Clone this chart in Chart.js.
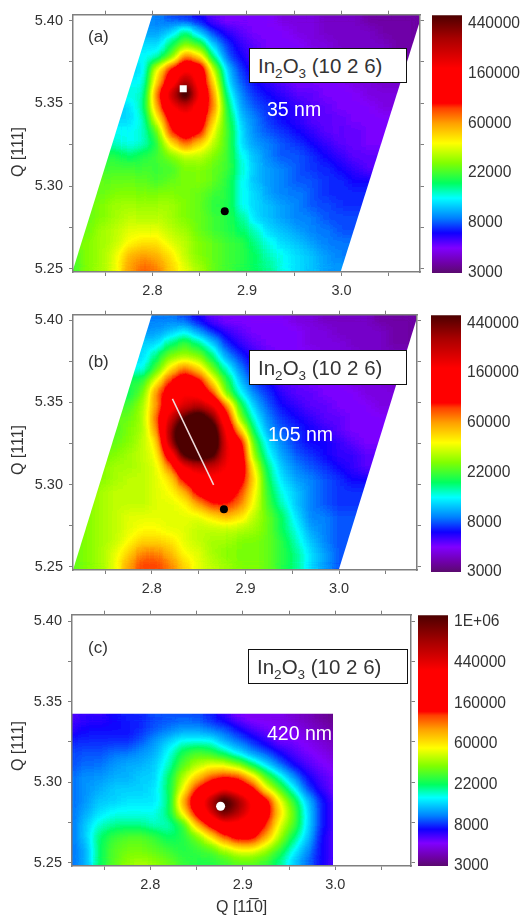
<!DOCTYPE html>
<html>
<head>
<meta charset="utf-8">
<script src="https://cdn.jsdelivr.net/npm/chart.js@4"></script>
<style>
body { margin: 0; background: #fff; width: 524px; height: 917px; position: relative; overflow: hidden; font-family: "Liberation Sans", Arial, sans-serif; }
canvas { position: absolute; }
.t { position: absolute; white-space: nowrap; color: #333; line-height: 1; }
.box { position: absolute; background: #fff; border: 1.5px solid #111; box-sizing: border-box; color: #333; font-size: 20.5px; line-height: 1; padding-left: 8px; }
.box sub { font-size: 13.5px; line-height: 0; }
.nm { color: #fff; font-size: 19.5px; }
.ylab { transform: translate(-50%, -50%) rotate(-90deg); font-size: 16px; }
</style>
</head>
<body>
<canvas id="heatA" width="430" height="300" style="left:0;top:0"></canvas>
<canvas id="barA" width="92" height="290" style="left:432px;top:0"></canvas>
<canvas id="heatB" width="430" height="300" style="left:0;top:300px"></canvas>
<canvas id="barB" width="93" height="290" style="left:431px;top:300px"></canvas>
<canvas id="heatC" width="430" height="300" style="left:0;top:600px"></canvas>
<canvas id="barC" width="106" height="290" style="left:418px;top:600px"></canvas>

<div class="t" style="left:88px;top:28px;font-size:17px">(a)</div>
<div class="box" style="left:249px;top:48px;width:158px;height:35px;padding-top:7px">In<sub>2</sub>O<sub>3</sub> (10 2 6)</div>
<div class="t nm" style="left:267px;top:100px">35 nm</div>
<div class="t ylab" style="left:18px;top:152px">Q [111]</div>

<div class="t" style="left:88px;top:353px;font-size:17px">(b)</div>
<div class="box" style="left:249px;top:350px;width:158px;height:35px;padding-top:7px">In<sub>2</sub>O<sub>3</sub> (10 2 6)</div>
<div class="t nm" style="left:268px;top:425px">105 nm</div>
<div class="t ylab" style="left:18px;top:450px">Q [111]</div>

<div class="t" style="left:88px;top:639px;font-size:17px">(c)</div>
<div class="box" style="left:248px;top:649px;width:160px;height:35px;padding-top:7px">In<sub>2</sub>O<sub>3</sub> (10 2 6)</div>
<div class="t nm" style="left:267px;top:724px">420 nm</div>
<div class="t ylab" style="left:18px;top:746px">Q [111]</div>
<div class="t" style="left:216px;top:899px;font-size:16px">Q [11&#x305;0]</div>

<script>
// Map grid, x positions shared by all panels
const qx = [2.715, 2.73, 2.745, 2.76, 2.775, 2.79, 2.805, 2.82, 2.835, 2.85, 2.865, 2.88, 2.895, 2.91, 2.925, 2.94, 2.955, 2.97, 2.985, 3.0, 3.015, 3.03, 3.045, 3.06, 3.075];
const qyFull = [5.4, 5.3925, 5.385, 5.3775, 5.37, 5.3625, 5.355, 5.3475, 5.34, 5.3325, 5.325, 5.3175, 5.31, 5.3025, 5.295, 5.2875, 5.28, 5.2725, 5.265, 5.2575, 5.25];
const qyShort = qyFull.slice(8);

// Intensity levels, one row per Q[111] from the top.
// A level is 10*ln(I/3000), so the bar ticks sit 10 levels apart.
const levelsA = [
  [11,11,11,11,11,11,11,10,9,8,6,5,5,5,5,4,4,4,3,3,3,2,2,2,2],
  [12,12,12,12,12,12,12,14,18,13,9,7,6,5,5,5,4,4,3,3,3,3,2,2,2],
  [14,14,14,14,14,14,14,18,22,20,13,9,7,6,5,5,5,4,4,3,3,3,3,2,2],
  [15,15,15,15,15,15,16,21,32,28,17,10,8,6,5,5,5,5,4,4,3,3,3,2,2],
  [14,14,14,14,14,14,26,35,41,39,24,13,9,7,6,5,5,5,5,4,4,3,3,3,3],
  [15,15,15,15,15,15,28,38,47,39,27,14,10,8,7,6,5,5,5,5,4,4,3,3,3],
  [16,16,16,16,16,16,32,45,56,41,30,16,11,9,8,7,6,6,5,5,5,4,4,4,4],
  [14,14,14,14,14,17,30,41,44,39,31,18,12,10,9,8,7,6,6,5,5,5,4,4,4],
  [14,14,14,14,14,16,26,36,40,38,28,19,13,11,9,8,7,6,6,6,5,5,5,5,5],
  [15,15,15,15,15,16,21,34,38,35,25,20,14,11,10,9,8,7,6,6,6,5,5,5,5],
  [16,16,16,16,15,16,19,27,32,28,24,20,14,12,11,10,9,8,7,6,6,5,5,5,5],
  [19,19,19,19,18,19,20,22,24,24,22,20,15,13,11,10,10,9,8,7,6,6,6,6,6],
  [20,20,20,20,20,20,20,20,22,22,21,20,16,13,12,11,10,9,9,8,7,6,6,6,6],
  [21,21,21,21,21,21,20,21,22,22,21,19,15,13,12,11,10,10,9,9,8,8,8,8,8],
  [21,21,21,22,22,22,22,22,22,21,20,19,15,14,12,11,11,10,9,9,9,9,9,9,9],
  [21,21,22,23,23,23,23,23,22,21,19,19,15,14,13,12,11,10,10,9,9,9,9,9,9],
  [21,21,22,23,24,24,24,23,22,21,20,19,17,14,13,12,11,11,10,10,10,10,10,10,10],
  [21,21,23,24,25,25,25,24,23,21,20,19,18,16,14,13,12,11,11,10,10,10,10,10,10],
  [21,22,23,24,26,27,27,25,24,22,21,20,19,17,15,14,13,12,11,11,11,11,11,11,11],
  [20,22,23,25,29,30,29,27,24,22,21,20,19,18,16,15,14,13,12,11,11,11,11,11,11],
  [20,22,23,25,30,32,31,28,25,23,21,20,19,18,17,15,14,13,12,12,12,12,12,12,12]
];
const levelsB = [
  [11,11,11,11,11,11,11,11,10,8,6,5,5,5,5,5,4,4,3,3,3,3,2,2,2],
  [12,12,12,12,12,12,12,13,15,12,9,7,6,5,5,5,5,4,4,3,3,3,3,2,2],
  [14,14,14,14,14,14,14,18,20,18,14,9,7,6,5,5,5,4,4,4,3,3,3,2,2],
  [14,14,14,14,14,14,18,22,23,22,18,12,9,7,6,5,5,5,4,4,4,3,3,3,3],
  [15,15,15,15,15,15,20,27,32,28,21,16,11,8,7,6,5,5,5,4,4,4,3,3,3],
  [19,19,19,19,19,19,26,34,38,36,27,19,13,9,8,6,6,5,5,5,4,4,4,3,3],
  [18,18,18,18,18,21,31,38,41,39,33,21,15,11,9,7,6,6,5,5,5,4,4,4,4],
  [20,20,20,20,20,23,30,39,43,46,42,31,19,13,10,8,7,6,6,5,5,5,4,4,4],
  [21,21,21,21,21,23,32,44,52,56,50,36,22,15,11,9,8,7,6,6,5,5,5,5,5],
  [20,20,20,20,22,23,30,48,58,60,56,40,28,17,12,10,9,8,7,6,5,5,5,5,5],
  [21,21,21,21,22,24,27,47,58,60,58,42,36,20,14,11,9,8,8,7,6,5,5,5,5],
  [21,21,21,22,23,24,26,38,53,56,53,42,37,22,15,12,10,9,8,7,7,6,6,6,6],
  [22,22,22,23,23,24,25,31,41,44,44,41,38,25,17,13,11,10,9,8,7,6,6,6,6],
  [22,22,22,23,24,24,25,27,35,39,40,39,36,27,18,14,12,11,10,9,8,8,8,8,8],
  [22,22,23,24,24,24,25,26,29,36,38,37,33,26,19,15,13,11,10,9,9,9,9,9,9],
  [22,22,23,24,24,24,25,25,26,30,34,34,31,25,20,16,13,11,10,9,9,9,9,9,9],
  [22,22,23,24,25,25,25,25,25,25,27,29,27,24,21,18,14,11,11,10,10,10,10,10,10],
  [21,22,23,24,25,26,26,25,25,24,24,24,24,23,21,18,15,12,11,10,10,10,10,10,10],
  [21,22,23,24,26,28,28,27,25,24,23,23,22,22,21,19,16,13,11,10,10,10,10,10,10],
  [21,22,23,25,28,31,31,29,26,25,23,22,22,22,21,19,17,14,12,10,10,10,10,10,10],
  [21,22,23,25,30,33,33,31,28,25,24,23,22,22,21,19,17,14,12,10,10,10,10,10,10]
];
const levelsC = [
  [7,8,8,9,10,10,11,11,11,11,10,8,6,5,5,5,4,3,2,1],
  [8,9,9,9,9,10,11,12,13,13,12,11,9,7,6,5,5,4,3,2],
  [10,10,10,10,10,11,13,15,17,17,17,14,12,10,8,6,6,5,4,3],
  [11,11,11,12,12,13,14,17,21,23,22,19,16,13,11,9,7,6,5,4],
  [11,12,12,13,14,14,15,18,23,26,28,28,25,20,16,12,9,7,6,5],
  [12,13,13,14,14,15,15,20,26,31,36,38,37,31,23,18,13,9,7,6],
  [12,13,14,15,15,15,16,20,28,38,43,48,44,40,29,23,17,11,8,6],
  [12,13,15,15,16,16,16,19,33,43,54,66,57,48,41,29,22,15,10,7],
  [12,14,16,17,17,17,17,20,29,40,50,60,54,47,41,31,24,16,10,7],
  [12,15,18,19,19,19,18,18,21,31,39,45,45,43,38,28,23,16,10,7],
  [12,15,20,22,23,23,22,20,21,24,29,36,40,40,33,26,20,15,9,7],
  [12,14,20,23,24,24,23,22,21,22,23,26,29,29,26,22,17,13,9,7],
  [12,14,20,23,25,26,25,24,22,21,21,22,23,23,22,19,15,12,9,7]
];

// Measured region of each map
const domainA = [[2.7153, 5.248], [2.8, 5.4036], [3.085, 5.4036], [2.999, 5.248]];
const domainB = [[2.7158, 5.248], [2.8, 5.4034], [3.0842, 5.4034], [2.9996, 5.248]];
const domainC = [[2.7154, 5.2479], [2.7154, 5.3425], [2.9975, 5.3425], [2.9975, 5.2479]];

// Markers
const squareA = [{x: 2.8326, y: 5.3588}];
const dotA = [{x: 2.8765, y: 5.2848}];
const dotB = [{x: 2.877, y: 5.285}];
const lineB = [{x: 2.822, y: 5.3522}, {x: 2.866, y: 5.2998}];
const dotC = [{x: 2.876, y: 5.285}];

// Colour bars
const barLabelsAB = ['3000', '8000', '22000', '60000', '160000', '440000'];
const barLabelsC = ['3000', '8000', '22000', '60000', '160000', '440000', '1E+06'];
const stopsAB = [0, 2, 5, 8, 11, 15, 18, 22, 26, 30, 33, 34, 41, 47, 51.6];
const stopsC = [0, 2.2, 5.6, 9, 12.3, 16.8, 20, 24.6, 29, 33.6, 37, 38, 48, 55, 61.6];
const stopColors = ['#5a0a6e', '#6f00a8', '#8000ff', '#1000ff', '#0080ff', '#00ffff', '#00ff60', '#80ff00', '#ffff00', '#ffa000', '#ff4000', '#ff0000', '#ff0000', '#a80000', '#4d0000'];

const levelToGrey = 3.5;

function hexToRgb(h) {
  return [parseInt(h.slice(1, 3), 16), parseInt(h.slice(3, 5), 16), parseInt(h.slice(5, 7), 16)];
}

function levelColor(level, stops) {
  if (level <= stops[0]) return hexToRgb(stopColors[0]);
  for (let i = 1; i < stops.length; i++) {
    if (level <= stops[i]) {
      const t = (level - stops[i - 1]) / (stops[i] - stops[i - 1]);
      const a = hexToRgb(stopColors[i - 1]);
      const b = hexToRgb(stopColors[i]);
      return a.map((v, k) => Math.round(v + (b[k] - v) * t));
    }
  }
  return hexToRgb(stopColors[stopColors.length - 1]);
}

// The cells are drawn as grey levels; this smooths the level field, colours it
// through the colour bar and cuts it to the measured region
const smoothMap = {
  id: 'smoothMap',
  afterDatasetDraw(chart, args, opts) {
    if (args.index !== 0) return;
    const ctx = chart.ctx;
    const area = chart.chartArea;
    const off = document.createElement('canvas');
    off.width = chart.width;
    off.height = chart.height;
    const octx = off.getContext('2d');
    octx.drawImage(chart.canvas, 0, 0);
    octx.filter = 'blur(' + opts.blur + 'px)';
    octx.drawImage(chart.canvas, 0, 0);
    octx.filter = 'none';
    const img = octx.getImageData(0, 0, off.width, off.height);
    const lut = [];
    for (let g = 0; g < 256; g++) lut.push(levelColor(g / levelToGrey, opts.stops));
    for (let i = 0; i < img.data.length; i += 4) {
      const c = lut[img.data[i]];
      img.data[i] = c[0];
      img.data[i + 1] = c[1];
      img.data[i + 2] = c[2];
      img.data[i + 3] = img.data[i + 3] ? 255 : 0;
    }
    octx.putImageData(img, 0, 0);
    ctx.save();
    ctx.clearRect(0, 0, chart.width, chart.height);
    ctx.beginPath();
    ctx.rect(area.left, area.top, area.right - area.left, area.bottom - area.top);
    ctx.clip();
    ctx.beginPath();
    opts.domain.forEach(p => ctx.lineTo(chart.scales.x.getPixelForValue(p[0]), chart.scales.y.getPixelForValue(p[1])));
    ctx.closePath();
    ctx.clip();
    ctx.drawImage(off, 0, 0);
    ctx.restore();
  }
};

const axisGrey = '#7f7f7f';

function axisBase(min, max) {
  return {
    type: 'linear', min: min, max: max,
    grid: { drawOnChartArea: false, color: axisGrey, tickLength: 4, z: 1 },
    border: { color: axisGrey, width: 1.5, z: 1 }
  };
}

function heatChart(id, cfg) {
  const cells = [];
  const greys = [];
  cfg.rows.forEach((row, j) => {
    row.forEach((level, i) => {
      const g = Math.min(255, Math.round(level * levelToGrey));
      cells.push({ x: qx[i], y: cfg.qy[j] });
      greys.push('rgb(' + g + ',' + g + ',' + g + ')');
    });
  });
  const font = { family: '"Liberation Sans", Arial, sans-serif', size: 14.5 };
  const x = axisBase(cfg.xMin, cfg.xMax);
  x.position = 'bottom';
  x.ticks = {
    stepSize: 0.05, includeBounds: false, autoSkip: false, maxRotation: 0, padding: 6, color: '#333', font: font, z: 1,
    callback: v => Math.round(v * 100) % 10 === 0 ? v.toFixed(1) : ''
  };
  x.afterFit = s => { s.height = 300 - cfg.bottom; };
  const xTop = axisBase(cfg.xMin, cfg.xMax);
  xTop.position = 'top';
  xTop.ticks = { stepSize: 0.05, includeBounds: false, display: false };
  xTop.afterFit = s => { s.height = cfg.top; };
  const y = axisBase(cfg.yMin, cfg.yMax);
  y.position = 'left';
  y.ticks = {
    stepSize: 0.025, includeBounds: false, autoSkip: false, padding: 6, color: '#333', font: font, z: 1,
    callback: v => Math.round(v * 1000) % 50 === 0 ? v.toFixed(2) : ''
  };
  y.afterFit = s => { s.width = cfg.left; };
  const yRight = axisBase(cfg.yMin, cfg.yMax);
  yRight.position = 'right';
  yRight.ticks = { stepSize: 0.025, includeBounds: false, display: false };
  yRight.afterFit = s => { s.width = 430 - cfg.right; };

  const datasets = [{
    data: cells, order: 5, clip: false, showLine: false,
    pointStyle: 'rect', pointRadius: 10, pointBorderWidth: 0, pointBackgroundColor: greys
  }].concat(cfg.marks);

  return new Chart(document.getElementById(id), {
    type: 'scatter',
    data: { datasets: datasets },
    options: {
      responsive: false, animation: false, events: [],
      layout: { padding: 0 },
      plugins: { legend: { display: false }, tooltip: { enabled: false }, smoothMap: { domain: cfg.domain, stops: cfg.stops, blur: 5.5 } },
      scales: { x: x, xTop: xTop, y: y, yRight: yRight }
    },
    plugins: [smoothMap]
  });
}

function barChart(id, labels, stops, top, bottom) {
  const barTop = stops[stops.length - 1];
  return new Chart(document.getElementById(id), {
    type: 'bar',
    data: {
      labels: ['bar'],
      datasets: [{
        data: [barTop], barPercentage: 1, categoryPercentage: 1,
        backgroundColor(c) {
          const area = c.chart.chartArea;
          if (!area) return stopColors[0];
          const g = c.chart.ctx.createLinearGradient(0, area.bottom, 0, area.top);
          stops.forEach((s, i) => g.addColorStop(s / barTop, stopColors[i]));
          return g;
        }
      }]
    },
    options: {
      responsive: false, animation: false, events: [],
      layout: { padding: { top: top, bottom: 290 - bottom } },
      plugins: { legend: { display: false }, tooltip: { enabled: false } },
      scales: {
        x: { display: false },
        y: {
          position: 'right', min: 0, max: barTop,
          grid: { display: false, drawTicks: false }, border: { display: false },
          ticks: {
            stepSize: 10, includeBounds: false, autoSkip: false, padding: 6, color: '#333',
            font: { family: '"Liberation Sans", Arial, sans-serif', size: 15.6 },
            callback: v => labels[v / 10]
          },
          afterFit: s => { s.width = s.chart.width - 30; }
        }
      }
    }
  });
}

heatChart('heatA', {
  rows: levelsA, qy: qyFull, stops: stopsAB, domain: domainA,
  left: 73, right: 422, top: 11, bottom: 272,
  xMin: 2.716, xMax: 3.083, yMin: 5.248, yMax: 5.4036,
  marks: [
    { data: squareA, order: 1, pointStyle: 'rect', pointRadius: 5, pointBorderWidth: 0, pointBackgroundColor: '#fff' },
    { data: dotA, order: 1, pointRadius: 4, pointBorderWidth: 0, pointBackgroundColor: '#000' }
  ]
});
heatChart('heatB', {
  rows: levelsB, qy: qyFull, stops: stopsAB, domain: domainB,
  left: 73, right: 417, top: 10, bottom: 270,
  xMin: 2.7158, xMax: 3.0832, yMin: 5.248, yMax: 5.4034,
  marks: [
    { data: lineB, order: 1, showLine: true, borderColor: '#f0dcdc', borderWidth: 1.5, pointRadius: 0 },
    { data: dotB, order: 1, pointRadius: 4, pointBorderWidth: 0, pointBackgroundColor: '#000' }
  ]
});
heatChart('heatC', {
  rows: levelsC, qy: qyShort, stops: stopsC, domain: domainC,
  left: 72, right: 411, top: 6, bottom: 266,
  xMin: 2.7154, xMax: 3.0818, yMin: 5.2479, yMax: 5.404,
  marks: [
    { data: dotC, order: 1, pointRadius: 4.5, pointBorderWidth: 0, pointBackgroundColor: '#fff' }
  ]
});

barChart('barA', barLabelsAB, stopsAB, 10, 273);
barChart('barB', barLabelsAB, stopsAB, 9, 272);
barChart('barC', barLabelsC, stopsC, 7, 266);
</script>
</body>
</html>
